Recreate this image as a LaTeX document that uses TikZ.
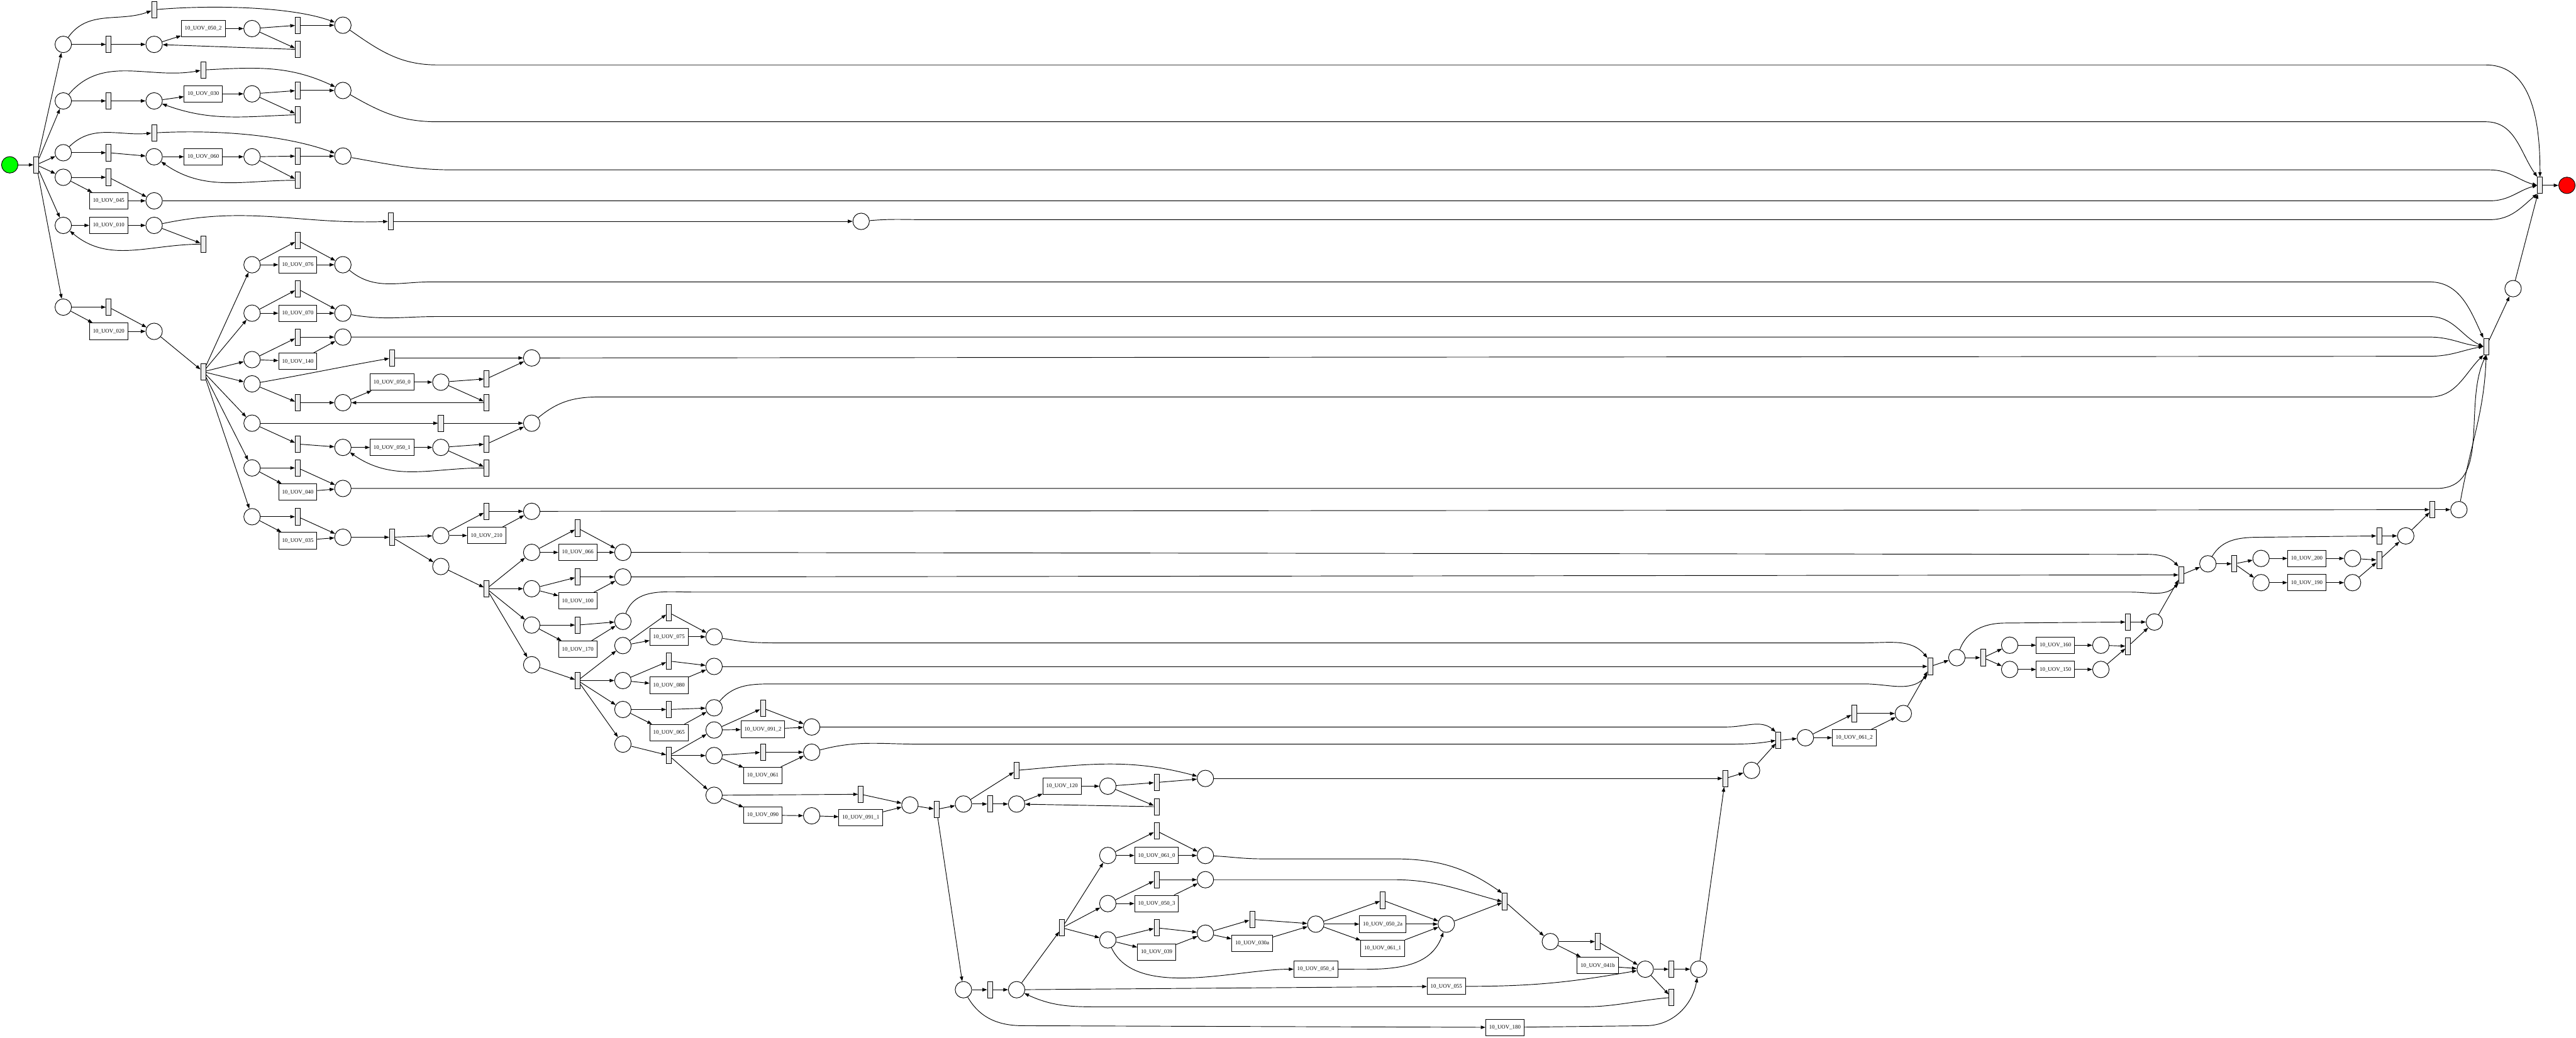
\documentclass[tikz,border=0pt]{standalone}
\usepackage{fontspec}
\setmainfont{Liberation Serif}
\usepackage{tikz}
\usetikzlibrary{positioning,arrows.meta}

\begin{document}
\begin{tikzpicture}[
  place/.style={draw, circle, minimum size=4.9mm, inner sep=0pt, line width=0.5pt},
  trans/.style={draw, rectangle, fill=black!7, minimum width=1.5mm, minimum height=4.9mm, inner sep=0pt, line width=0.5pt},
  task/.style={draw, rectangle, fill=white, minimum height=4.9mm, inner xsep=1mm, inner ysep=0pt, line width=0.5pt, font=\fontsize{4.7}{5}\selectfont},
  arr/.style={-{Triangle[length=1.4mm,width=1mm]}, line width=0.5pt},
]
\useasboundingbox (0,0) rectangle (76.55,-30.84);

  \node[place, fill=green] (start) at (0.29,-4.90) {};
  \node[trans] (t0) at (1.08,-4.90) {};
  \node[place] (a1) at (1.88,-1.32) {};
  \node[place] (a2) at (1.88,-3.00) {};
  \node[place] (a3) at (1.88,-4.54) {};
  \node[place] (a4) at (1.88,-5.27) {};
  \node[place] (a5) at (1.88,-6.70) {};
  \node[place] (a6) at (1.88,-9.13) {};

  \node[trans] (t1a) at (3.23,-1.32) {};
  \node[place] (b1) at (4.58,-1.32) {};
  \node[trans] (t1top) at (4.58,-0.29) {};
  \node[task] (u0502) at (6.04,-0.85) {10\_UOV\_050\_2};
  \node[place] (d1) at (7.49,-0.85) {};
  \node[trans] (t1c) at (8.85,-0.75) {};
  \node[trans] (t1d) at (8.85,-1.47) {};
  \node[place] (c1) at (10.19,-0.75) {};

  \node[trans] (t2a) at (3.23,-3.00) {};
  \node[place] (b2) at (4.58,-3.00) {};
  \node[trans] (t2top) at (6.04,-2.08) {};
  \node[task] (u030) at (6.04,-2.79) {10\_UOV\_030};
  \node[place] (d2) at (7.49,-2.79) {};
  \node[trans] (t2c) at (8.85,-2.69) {};
  \node[trans] (t2d) at (8.85,-3.41) {};
  \node[place] (c2) at (10.19,-2.69) {};

  \node[trans] (t3a) at (3.23,-4.54) {};
  \node[place] (b3) at (4.58,-4.66) {};
  \node[trans] (t3top) at (4.58,-3.95) {};
  \node[task] (u060) at (6.04,-4.66) {10\_UOV\_060};
  \node[place] (d3) at (7.49,-4.66) {};
  \node[trans] (t3c) at (8.85,-4.64) {};
  \node[trans] (t3d) at (8.85,-5.36) {};
  \node[place] (c3) at (10.19,-4.64) {};

  \node[trans] (t4a) at (3.23,-5.27) {};
  \node[task] (u045) at (3.23,-5.97) {10\_UOV\_045};
  \node[place] (e4) at (4.58,-5.97) {};
  \node[task] (u010) at (3.23,-6.70) {10\_UOV\_010};
  \node[place] (b5) at (4.58,-6.70) {};
  \node[trans] (t5b) at (6.04,-7.26) {};
  \node[trans] (t5) at (11.61,-6.58) {};
  \node[place] (p5) at (25.59,-6.58) {};

  \node[trans] (t6a) at (3.23,-9.13) {};
  \node[task] (u020) at (3.23,-9.85) {10\_UOV\_020};
  \node[place] (f6) at (4.58,-9.85) {};
  \node[trans] (ts) at (6.04,-11.05) {};
  \node[place] (g1) at (7.49,-7.87) {};
  \node[place] (g2) at (7.49,-9.31) {};
  \node[place] (g3) at (7.49,-10.69) {};
  \node[place] (g4) at (7.49,-11.41) {};
  \node[place] (g5) at (7.49,-12.58) {};
  \node[place] (g6) at (7.49,-13.91) {};
  \node[place] (g7) at (7.49,-15.36) {};

  \node[trans] (tg1) at (8.85,-7.15) {};
  \node[task] (u076) at (8.85,-7.87) {10\_UOV\_076};
  \node[place] (h1) at (10.19,-7.87) {};
  \node[trans] (tg2) at (8.85,-8.59) {};
  \node[task] (u070) at (8.85,-9.31) {10\_UOV\_070};
  \node[place] (h2) at (10.19,-9.31) {};
  \node[trans] (tg3) at (8.85,-10.02) {};
  \node[task] (u140) at (8.85,-10.74) {10\_UOV\_140};
  \node[place] (h3) at (10.19,-10.02) {};

  \node[trans] (tg4) at (11.65,-10.64) {};
  \node[place] (h4) at (15.80,-10.64) {};
  \node[trans] (tg4b) at (8.85,-11.97) {};
  \node[place] (bg4) at (10.19,-11.97) {};
  \node[task] (u0500) at (11.65,-11.36) {10\_UOV\_050\_0};
  \node[place] (dg4) at (13.10,-11.36) {};
  \node[trans] (tg4c) at (14.46,-11.26) {};
  \node[trans] (tg4d) at (14.46,-11.97) {};

  \node[trans] (tg5) at (13.10,-12.58) {};
  \node[place] (h5) at (15.80,-12.58) {};
  \node[trans] (tg5b) at (8.85,-13.20) {};
  \node[place] (bg5) at (10.19,-13.30) {};
  \node[task] (u0501) at (11.65,-13.30) {10\_UOV\_050\_1};
  \node[place] (dg5) at (13.10,-13.30) {};
  \node[trans] (tg5c) at (14.46,-13.20) {};
  \node[trans] (tg5d) at (14.46,-13.91) {};

  \node[trans] (tg6) at (8.85,-13.91) {};
  \node[task] (u040) at (8.85,-14.63) {10\_UOV\_040};
  \node[place] (h6) at (10.19,-14.52) {};
  \node[trans] (tg7) at (8.85,-15.36) {};
  \node[task] (u035) at (8.85,-16.07) {10\_UOV\_035};
  \node[place] (h7) at (10.19,-15.97) {};
  \node[trans] (ts2) at (11.65,-15.97) {};
  \node[place] (j1) at (13.10,-15.92) {};
  \node[place] (j2) at (13.10,-16.84) {};
  \node[trans] (tj1) at (14.46,-15.20) {};
  \node[task] (u210) at (14.46,-15.92) {10\_UOV\_210};
  \node[place] (k1) at (15.80,-15.20) {};
  \node[trans] (ts3) at (14.46,-17.50) {};
  \node[place] (l1) at (15.80,-16.42) {};
  \node[place] (l2) at (15.80,-17.50) {};
  \node[place] (l3) at (15.80,-18.58) {};
  \node[place] (l4) at (15.80,-19.76) {};
  \node[trans] (tl1) at (17.17,-15.70) {};
  \node[task] (u066) at (17.17,-16.42) {10\_UOV\_066};
  \node[place] (m1) at (18.51,-16.42) {};
  \node[trans] (tl2) at (17.17,-17.15) {};
  \node[task] (u100) at (17.17,-17.86) {10\_UOV\_100};
  \node[place] (m2) at (18.51,-17.15) {};
  \node[trans] (tl3) at (17.17,-18.58) {};
  \node[task] (u170) at (17.17,-19.30) {10\_UOV\_170};
  \node[place] (m3) at (18.51,-18.47) {};
  \node[trans] (ts4) at (17.17,-20.23) {};
  \node[place] (n1) at (18.51,-19.19) {};
  \node[place] (n2) at (18.51,-20.23) {};
  \node[place] (n3) at (18.51,-21.09) {};
  \node[place] (n4) at (18.51,-22.12) {};
  \node[trans] (tn1) at (19.88,-18.21) {};
  \node[task] (u075) at (19.88,-18.93) {10\_UOV\_075};
  \node[place] (o1) at (21.22,-18.93) {};
  \node[trans] (tn2) at (19.88,-19.65) {};
  \node[task] (u080) at (19.88,-20.37) {10\_UOV\_080};
  \node[place] (o2) at (21.22,-19.81) {};
  \node[trans] (tn3) at (19.88,-21.09) {};
  \node[task] (u065) at (19.88,-21.78) {10\_UOV\_065};
  \node[place] (o3) at (21.22,-21.04) {};
  \node[trans] (ts5) at (19.88,-22.46) {};
  \node[place] (q1) at (21.22,-21.70) {};
  \node[place] (q2) at (21.22,-22.46) {};
  \node[place] (q3) at (21.22,-23.64) {};

  \node[trans] (tq1) at (22.67,-21.05) {};
  \node[task] (u0912) at (22.67,-21.68) {10\_UOV\_091\_2};
  \node[place] (r1) at (24.12,-21.61) {};
  \node[trans] (tq2) at (22.67,-22.36) {};
  \node[task] (u061) at (22.67,-23.05) {10\_UOV\_061};
  \node[place] (r2) at (24.12,-22.36) {};
  \node[trans] (tq3) at (25.58,-23.61) {};
  \node[task] (u090) at (22.67,-24.23) {10\_UOV\_090};
  \node[place] (s3) at (24.12,-24.25) {};
  \node[task] (u0911) at (25.58,-24.30) {10\_UOV\_091\_1};
  \node[place] (r3) at (27.04,-23.93) {};
  \node[trans] (ts6) at (27.83,-24.06) {};

  \node[place] (u1) at (28.63,-23.90) {};
  \node[place] (u2) at (28.63,-29.42) {};
  \node[trans] (tu1) at (29.42,-23.90) {};
  \node[place] (v1) at (30.21,-23.90) {};
  \node[trans] (tu1top) at (30.21,-22.90) {};
  \node[task] (u120) at (31.56,-23.37) {10\_UOV\_120};
  \node[place] (v2) at (32.92,-23.37) {};
  \node[trans] (tv2) at (34.37,-23.26) {};
  \node[trans] (tv2b) at (34.37,-23.98) {};
  \node[place] (w1) at (35.82,-23.14) {};
  \node[trans] (tu2) at (29.42,-29.42) {};
  \node[place] (px) at (30.21,-29.42) {};
  \node[trans] (tx) at (31.56,-27.58) {};
  \node[place] (y1) at (32.92,-25.43) {};
  \node[place] (y2) at (32.92,-26.86) {};
  \node[place] (y3) at (32.92,-27.94) {};
  \node[trans] (ty1) at (34.37,-24.70) {};
  \node[task] (u0610) at (34.37,-25.43) {10\_UOV\_061\_0};
  \node[place] (z1) at (35.82,-25.43) {};
  \node[trans] (ty2) at (34.37,-26.15) {};
  \node[task] (u0503) at (34.37,-26.86) {10\_UOV\_050\_3};
  \node[place] (z2) at (35.82,-26.15) {};
  \node[trans] (ty3) at (34.37,-27.58) {};
  \node[task] (u039) at (34.37,-28.30) {10\_UOV\_039};
  \node[place] (z3) at (35.82,-27.74) {};
  \node[trans] (tz3) at (37.21,-27.33) {};
  \node[task] (u030a) at (37.21,-28.04) {10\_UOV\_030a};
  \node[place] (aa) at (39.10,-27.47) {};
  \node[task] (u0504) at (39.10,-28.81) {10\_UOV\_050\_4};
  \node[trans] (taa) at (41.09,-26.76) {};
  \node[task] (u0502a) at (41.09,-27.47) {10\_UOV\_050\_2a};
  \node[task] (u0611) at (41.09,-28.19) {10\_UOV\_061\_1};
  \node[place] (bb) at (42.98,-27.47) {};
  \node[trans] (tjoin1) at (44.72,-26.80) {};
  \node[place] (dd) at (46.07,-27.99) {};
  \node[trans] (tdd) at (47.48,-27.99) {};
  \node[task] (u041b) at (47.48,-28.70) {10\_UOV\_041b};
  \node[task] (u055) at (42.98,-29.32) {10\_UOV\_055};
  \node[place] (cc) at (48.89,-28.81) {};
  \node[trans] (tcc) at (49.67,-28.81) {};
  \node[trans] (tcc2) at (49.67,-29.65) {};
  \node[place] (ee) at (50.48,-28.81) {};
  \node[task] (u180) at (44.72,-30.54) {10\_UOV\_180};

  \node[trans] (tjoin2) at (51.27,-23.14) {};
  \node[place] (ff) at (52.05,-22.90) {};
  \node[trans] (tjoin3) at (52.85,-22.01) {};
  \node[place] (gg) at (53.65,-21.93) {};
  \node[trans] (tgg) at (55.10,-21.21) {};
  \node[task] (u0612) at (55.10,-21.93) {10\_UOV\_061\_2};
  \node[place] (hh) at (56.56,-21.21) {};
  \node[trans] (tjoin4) at (57.36,-19.81) {};
  \node[place] (ii) at (58.15,-19.55) {};
  \node[trans] (ts7) at (58.93,-19.55) {};
  \node[place] (jj1) at (59.72,-19.18) {};
  \node[place] (jj2) at (59.72,-19.90) {};
  \node[task] (u160) at (61.08,-19.18) {10\_UOV\_160};
  \node[task] (u150) at (61.08,-19.90) {10\_UOV\_150};
  \node[place] (kk1) at (62.43,-19.18) {};
  \node[place] (kk2) at (62.43,-19.90) {};
  \node[trans] (tii) at (63.24,-18.49) {};
  \node[trans] (tkk) at (63.24,-19.21) {};
  \node[place] (ll) at (64.02,-18.49) {};
  \node[trans] (tjoin5) at (64.82,-17.09) {};
  \node[place] (mm) at (65.61,-16.76) {};
  \node[trans] (ts8) at (66.40,-16.76) {};
  \node[place] (oo1) at (67.19,-16.60) {};
  \node[place] (oo2) at (67.19,-17.32) {};
  \node[task] (u200) at (68.55,-16.60) {10\_UOV\_200};
  \node[task] (u190) at (68.55,-17.32) {10\_UOV\_190};
  \node[place] (pp1) at (69.91,-16.60) {};
  \node[place] (pp2) at (69.91,-17.32) {};
  \node[trans] (tmm) at (70.70,-15.93) {};
  \node[trans] (tpp) at (70.70,-16.65) {};
  \node[place] (nn) at (71.49,-15.93) {};
  \node[trans] (tjoin6) at (72.28,-15.15) {};
  \node[place] (qq) at (73.07,-15.15) {};
  \node[trans] (tbig) at (73.88,-10.30) {};
  \node[place] (rr) at (74.68,-8.58) {};
  \node[trans] (tend) at (75.48,-5.51) {};
  \node[place, fill=red] (finish) at (76.28,-5.51) {};

  \draw[arr] (start) -- (t0);
  \draw[arr] (t0) -- (a1);
  \draw[arr] (t0) -- (a2);
  \draw[arr] (t0) -- (a3);
  \draw[arr] (t0) -- (a4);
  \draw[arr] (t0) -- (a5);
  \draw[arr] (t0) -- (a6);

  \draw[arr] (a1) -- (t1a);
  \draw[arr] (t1a) -- (b1);
  \draw[arr] (a1) to[out=55,in=200] (t1top);
  \draw[arr] (t1top) to[out=5,in=160, looseness=0.7] (c1);
  \draw[arr] (b1) -- (u0502);
  \draw[arr] (u0502) -- (d1);
  \draw[arr] (d1) -- (t1c);
  \draw[arr] (t1c) -- (c1);
  \draw[arr] (d1) -- (t1d);
  \draw[arr] (t1d) -- (b1);

  \draw[arr] (a2) -- (t2a);
  \draw[arr] (t2a) -- (b2);
  \draw[arr] (a2) to[out=50,in=190] (t2top);
  \draw[arr] (t2top) to[out=3,in=155] (c2);
  \draw[arr] (b2) -- (u030);
  \draw[arr] (u030) -- (d2);
  \draw[arr] (d2) -- (t2c);
  \draw[arr] (t2c) -- (c2);
  \draw[arr] (d2) -- (t2d);
  \draw[arr] (t2d) to[out=182,in=-20] (b2);

  \draw[arr] (a3) -- (t3a);
  \draw[arr] (t3a) -- (b3);
  \draw[arr] (a3) to[out=45,in=185] (t3top);
  \draw[arr] (t3top) to[out=3,in=160, looseness=0.8] (c3);
  \draw[arr] (b3) -- (u060);
  \draw[arr] (u060) -- (d3);
  \draw[arr] (d3) -- (t3c);
  \draw[arr] (t3c) -- (c3);
  \draw[arr] (d3) -- (t3d);
  \draw[arr] (t3d) to[out=180,in=-35] (b3);

  \draw[arr] (a4) -- (t4a);
  \draw[arr] (t4a) -- (e4);
  \draw[arr] (a4) -- (u045);
  \draw[arr] (u045) -- (e4);
  \draw[arr] (a5) -- (u010);
  \draw[arr] (u010) -- (b5);
  \draw[arr] (b5) -- (t5b);
  \draw[arr] (t5b) to[out=180,in=-40] (a5);
  \draw[arr] (b5) to[out=12,in=182] (t5);
  \draw[arr] (t5) -- (p5);

  \draw[arr] (a6) -- (t6a);
  \draw[arr] (t6a) -- (f6);
  \draw[arr] (a6) -- (u020);
  \draw[arr] (u020) -- (f6);
  \draw[arr] (f6) -- (ts);
  \draw[arr] (ts) -- (g1);
  \draw[arr] (ts) -- (g2);
  \draw[arr] (ts) -- (g3);
  \draw[arr] (ts) -- (g4);
  \draw[arr] (ts) -- (g5);
  \draw[arr] (ts) -- (g6);
  \draw[arr] (ts) -- (g7);

  \draw[arr] (g1) -- (tg1);
  \draw[arr] (tg1) -- (h1);
  \draw[arr] (g1) -- (u076);
  \draw[arr] (u076) -- (h1);
  \draw[arr] (g2) -- (tg2);
  \draw[arr] (tg2) -- (h2);
  \draw[arr] (g2) -- (u070);
  \draw[arr] (u070) -- (h2);
  \draw[arr] (g3) -- (tg3);
  \draw[arr] (tg3) -- (h3);
  \draw[arr] (g3) -- (u140);
  \draw[arr] (u140) -- (h3);

  \draw[arr] (g4) to[out=10,in=190] (tg4);
  \draw[arr] (tg4) -- (h4);
  \draw[arr] (g4) -- (tg4b);
  \draw[arr] (tg4b) -- (bg4);
  \draw[arr] (bg4) -- (u0500);
  \draw[arr] (u0500) -- (dg4);
  \draw[arr] (dg4) -- (tg4c);
  \draw[arr] (tg4c) -- (h4);
  \draw[arr] (dg4) -- (tg4d);
  \draw[arr] (tg4d) -- (bg4);

  \draw[arr] (g5) -- (tg5);
  \draw[arr] (tg5) -- (h5);
  \draw[arr] (g5) -- (tg5b);
  \draw[arr] (tg5b) -- (bg5);
  \draw[arr] (bg5) -- (u0501);
  \draw[arr] (u0501) -- (dg5);
  \draw[arr] (dg5) -- (tg5c);
  \draw[arr] (tg5c) -- (h5);
  \draw[arr] (dg5) -- (tg5d);
  \draw[arr] (tg5d) to[out=180,in=-35] (bg5);

  \draw[arr] (g6) -- (tg6);
  \draw[arr] (tg6) -- (h6);
  \draw[arr] (g6) -- (u040);
  \draw[arr] (u040) -- (h6);
  \draw[arr] (g7) -- (tg7);
  \draw[arr] (tg7) -- (h7);
  \draw[arr] (g7) -- (u035);
  \draw[arr] (u035) -- (h7);
  \draw[arr] (h7) -- (ts2);
  \draw[arr] (ts2) -- (j1);
  \draw[arr] (ts2) -- (j2);
  \draw[arr] (j1) -- (tj1);
  \draw[arr] (tj1) -- (k1);
  \draw[arr] (j1) -- (u210);
  \draw[arr] (u210) -- (k1);
  \draw[arr] (j2) -- (ts3);
  \draw[arr] (ts3) -- (l1);
  \draw[arr] (ts3) -- (l2);
  \draw[arr] (ts3) -- (l3);
  \draw[arr] (ts3) -- (l4);

  \draw[arr] (l1) -- (tl1);
  \draw[arr] (tl1) -- (m1);
  \draw[arr] (l1) -- (u066);
  \draw[arr] (u066) -- (m1);
  \draw[arr] (l2) -- (tl2);
  \draw[arr] (tl2) -- (m2);
  \draw[arr] (l2) -- (u100);
  \draw[arr] (u100) -- (m2);
  \draw[arr] (l3) -- (tl3);
  \draw[arr] (tl3) -- (m3);
  \draw[arr] (l3) -- (u170);
  \draw[arr] (u170) -- (m3);
  \draw[arr] (l4) -- (ts4);
  \draw[arr] (ts4) -- (n1);
  \draw[arr] (ts4) -- (n2);
  \draw[arr] (ts4) -- (n3);
  \draw[arr] (ts4) -- (n4);

  \draw[arr] (n1) -- (tn1);
  \draw[arr] (tn1) -- (o1);
  \draw[arr] (n1) -- (u075);
  \draw[arr] (u075) -- (o1);
  \draw[arr] (n2) -- (tn2);
  \draw[arr] (tn2) -- (o2);
  \draw[arr] (n2) -- (u080);
  \draw[arr] (u080) -- (o2);
  \draw[arr] (n3) -- (tn3);
  \draw[arr] (tn3) -- (o3);
  \draw[arr] (n3) -- (u065);
  \draw[arr] (u065) -- (o3);
  \draw[arr] (n4) -- (ts5);
  \draw[arr] (ts5) -- (q1);
  \draw[arr] (ts5) -- (q2);
  \draw[arr] (ts5) -- (q3);

  \draw[arr] (q1) -- (tq1);
  \draw[arr] (tq1) -- (r1);
  \draw[arr] (q1) -- (u0912);
  \draw[arr] (u0912) -- (r1);
  \draw[arr] (q2) -- (tq2);
  \draw[arr] (tq2) -- (r2);
  \draw[arr] (q2) -- (u061);
  \draw[arr] (u061) -- (r2);
  \draw[arr] (q3) -- (tq3);
  \draw[arr] (tq3) -- (r3);
  \draw[arr] (q3) -- (u090);
  \draw[arr] (u090) -- (s3);
  \draw[arr] (s3) -- (u0911);
  \draw[arr] (u0911) -- (r3);
  \draw[arr] (r3) -- (ts6);
  \draw[arr] (ts6) -- (u1);
  \draw[arr] (ts6) -- (u2);

  \draw[arr] (u1) -- (tu1);
  \draw[arr] (tu1) -- (v1);
  \draw[arr] (u1) -- (tu1top);
  \draw[arr] (tu1top) to[out=5,in=165] (w1);
  \draw[arr] (v1) -- (u120);
  \draw[arr] (u120) -- (v2);
  \draw[arr] (v2) -- (tv2);
  \draw[arr] (tv2) -- (w1);
  \draw[arr] (v2) -- (tv2b);
  \draw[arr] (tv2b) -- (v1);

  \draw[arr] (u2) -- (tu2);
  \draw[arr] (tu2) -- (px);
  \draw[arr] (px) -- (tx);
  \draw[arr] (tx) -- (y1);
  \draw[arr] (tx) -- (y2);
  \draw[arr] (tx) -- (y3);
  \draw[arr] (y1) -- (ty1);
  \draw[arr] (ty1) -- (z1);
  \draw[arr] (y1) -- (u0610);
  \draw[arr] (u0610) -- (z1);
  \draw[arr] (y2) -- (ty2);
  \draw[arr] (ty2) -- (z2);
  \draw[arr] (y2) -- (u0503);
  \draw[arr] (u0503) -- (z2);
  \draw[arr] (y3) -- (ty3);
  \draw[arr] (ty3) -- (z3);
  \draw[arr] (y3) -- (u039);
  \draw[arr] (u039) -- (z3);
  \draw[arr] (z3) -- (tz3);
  \draw[arr] (tz3) -- (aa);
  \draw[arr] (z3) -- (u030a);
  \draw[arr] (u030a) -- (aa);
  \draw[arr] (y3) to[out=-65,in=180, looseness=0.8] (u0504);
  \draw[arr] (u0504) to[out=0,in=250] (bb);
  \draw[arr] (aa) -- (taa);
  \draw[arr] (taa) -- (bb);
  \draw[arr] (aa) -- (u0502a);
  \draw[arr] (u0502a) -- (bb);
  \draw[arr] (aa) -- (u0611);
  \draw[arr] (u0611) -- (bb);
  \draw[arr] (bb) -- (tjoin1);
  \draw[arr] (z1) to[out=-3,in=180] (37.5,-25.53) -- (41.4,-25.53) to[out=0,in=145] (tjoin1.north west);
  \draw[arr] (z2) -- (41.4,-26.15) to[out=0,in=165] (tjoin1.west);
  \draw[arr] (tjoin1) -- (dd);
  \draw[arr] (dd) -- (tdd);
  \draw[arr] (tdd) -- (cc);
  \draw[arr] (dd) -- (u041b);
  \draw[arr] (u041b) -- (cc);
  \draw[arr] (px) -- (u055);
  \draw[arr] (u055) to[out=0,in=190] (cc);
  \draw[arr] (cc) -- (tcc);
  \draw[arr] (tcc) -- (ee);
  \draw[arr] (cc) -- (tcc2);
  \draw[arr] (tcc2) to[out=185,in=0] (47.0,-29.93) -- (33.0,-29.93) to[out=180,in=-25] (px);
  \draw[arr] (u2) to[out=-60,in=180] (30.4,-30.49) -- (u180);
  \draw[arr] (u180) -- (48.9,-30.49) to[out=0,in=260] (ee);

  \draw[arr] (w1) -- (tjoin2);
  \draw[arr] (ee) -- (tjoin2);
  \draw[arr] (tjoin2) -- (ff);
  \draw[arr] (ff) -- (tjoin3);
  \draw[arr] (r1) -- (51.3,-21.61) to[out=0,in=140] (tjoin3.north west);
  \draw[arr] (r2) to[out=15,in=180] (27.3,-22.12) -- (51.3,-22.12) to[out=0,in=190] (tjoin3.west);
  \draw[arr] (tjoin3) -- (gg);
  \draw[arr] (gg) -- (tgg);
  \draw[arr] (tgg) -- (hh);
  \draw[arr] (gg) -- (u0612);
  \draw[arr] (u0612) -- (hh);
  \draw[arr] (hh) -- (tjoin4);
  \draw[arr] (o1) to[out=-10,in=180] (23.0,-19.11) -- (55.4,-19.11) to[out=0,in=130] (tjoin4.north west);
  \draw[arr] (o2) -- (tjoin4);
  \draw[arr] (o3) to[out=50,in=180] (23.0,-20.33) -- (55.4,-20.33) to[out=0,in=225] (tjoin4.south west);

  \draw[arr] (tjoin4) -- (ii);
  \draw[arr] (ii) -- (ts7);
  \draw[arr] (ts7) -- (jj1);
  \draw[arr] (ts7) -- (jj2);
  \draw[arr] (jj1) -- (u160);
  \draw[arr] (u160) -- (kk1);
  \draw[arr] (jj2) -- (u150);
  \draw[arr] (u150) -- (kk2);
  \draw[arr] (kk1) -- (tkk);
  \draw[arr] (kk2) -- (tkk);
  \draw[arr] (tkk) -- (ll);
  \draw[arr] (ii) to[out=70,in=180] (59.6,-18.52) -- (tii);
  \draw[arr] (tii) -- (ll);
  \draw[arr] (ll) -- (tjoin5);
  \draw[arr] (m1) -- (63.3,-16.48) to[out=0,in=135] (tjoin5.north west);
  \draw[arr] (m2) -- (tjoin5);
  \draw[arr] (m3) to[out=70,in=180] (20.6,-17.60) -- (63.3,-17.60) to[out=0,in=225] (tjoin5.south west);

  \draw[arr] (tjoin5) -- (mm);
  \draw[arr] (mm) -- (ts8);
  \draw[arr] (ts8) -- (oo1);
  \draw[arr] (ts8) -- (oo2);
  \draw[arr] (oo1) -- (u200);
  \draw[arr] (u200) -- (pp1);
  \draw[arr] (oo2) -- (u190);
  \draw[arr] (u190) -- (pp2);
  \draw[arr] (pp1) -- (tpp);
  \draw[arr] (pp2) -- (tpp);
  \draw[arr] (tpp) -- (nn);
  \draw[arr] (mm) to[out=60,in=180] (67.2,-15.97) -- (tmm);
  \draw[arr] (tmm) -- (nn);
  \draw[arr] (nn) -- (tjoin6);
  \draw[arr] (k1) -- (tjoin6);
  \draw[arr] (tjoin6) -- (qq);

  \draw[arr] (h1) to[out=-40,in=180] (12.8,-8.38) -- (72.2,-8.38) to[out=0,in=115] (tbig.north west);
  \draw[arr] (h2) to[out=-10,in=180] (13.0,-9.41) -- (72.2,-9.41) to[out=0,in=155] (tbig.west);
  \draw[arr] (h3) -- (72.2,-10.02) to[out=0,in=175] (tbig.west);
  \draw[arr] (h4) -- (72.2,-10.59) to[out=0,in=190] (tbig.west);
  \draw[arr] (h5) to[out=40,in=180] (17.8,-11.80) -- (72.2,-11.80) to[out=0,in=225] (tbig.south west);
  \draw[arr] (h6) -- (72.4,-14.52) to[out=0,in=245] (tbig.south);
  \draw[arr] (qq) to[out=80,in=268] (tbig.south);
  \draw[arr] (tbig) -- (rr);
  \draw[arr] (rr) -- (tend);

  \draw[arr] (c1) to[out=-35,in=180] (13.0,-1.93) -- (73.87,-1.93) to[out=0,in=90] (tend.north);
  \draw[arr] (c2) to[out=-30,in=180] (13.0,-3.62) -- (73.87,-3.62) to[out=0,in=125] (tend.north west);
  \draw[arr] (c3) to[out=-10,in=180] (13.5,-5.05) -- (73.99,-5.05) to[out=0,in=165] (tend.west);
  \draw[arr] (e4) -- (73.99,-5.97) to[out=0,in=195] (tend.west);
  \draw[arr] (p5) to[out=5,in=180] (27.5,-6.53) -- (73.99,-6.53) to[out=0,in=220] (tend.south west);
  \draw[arr] (tend) -- (finish);
\end{tikzpicture}
\end{document}
